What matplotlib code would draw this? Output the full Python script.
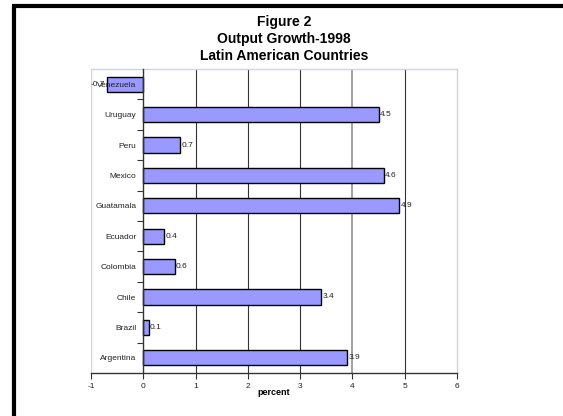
import matplotlib
matplotlib.use("Agg")
import matplotlib.pyplot as plt
from matplotlib.lines import Line2D

plt.rcParams['font.family'] = ['Liberation Sans', 'DejaVu Sans']

countries = ["Argentina", "Brazil", "Chile", "Colombia", "Ecuador",
             "Guatamala", "Mexico", "Peru", "Uruguay", "Venezuela"]
growth = [3.9, 0.1, 3.4, 0.6, 0.4, 4.9, 4.6, 0.7, 4.5, -0.7]
value_labels = ["3.9", "0.1", "3.4", "0.6", "0.4", "4.9", "4.6", "0.7", "4.5", "-0.7"]
x_ticks = [-1, 0, 1, 2, 3, 4, 5, 6]

W, H = 563, 416
fig = plt.figure(figsize=(W / 100, H / 100), dpi=100)
fig.patch.set_facecolor("white")

# thick black frame around the chart (open to the right and bottom)
fig.add_artist(Line2D([13.5 / W, 13.5 / W], [1 - 6 / H, 0], transform=fig.transFigure,
                      color="black", lw=3.0, solid_capstyle="butt"))
fig.add_artist(Line2D([12 / W, 1], [1 - 6 / H, 1 - 6 / H], transform=fig.transFigure,
                      color="black", lw=3.0, solid_capstyle="butt"))

ax = fig.add_axes([91 / W, (H - 373) / H, (457 - 91) / W, (373 - 69) / H])

pos = list(range(len(countries)))
ax.barh(pos, growth, height=0.5, color="#9999FF", edgecolor="black", linewidth=1.0, zorder=3)

ax.set_xlim(-1, 6)
ax.set_ylim(-0.5, len(countries) - 0.5)

# vertical gridlines
for v in x_ticks[2:-1]:
    if v == 4:
        ax.axvline(v, color="#999999", lw=1.3, zorder=1)
    else:
        ax.axvline(v, color="#333333", lw=0.8, zorder=1)

# plot area frame
for side in ("top", "right"):
    ax.spines[side].set_color("#D0D0F4")
    ax.spines[side].set_linewidth(1.0)
ax.spines["bottom"].set_color("#333333")
ax.spines["bottom"].set_linewidth(1.0)
ax.axvline(-1, color="#D0D0F4", lw=1.0, zorder=0)
ax.spines["left"].set_position(("data", 0))
ax.spines["left"].set_color("#333333")
ax.spines["left"].set_linewidth(1.0)
ax.spines["left"].set_zorder(4)
ax.yaxis.set_zorder(4.5)

ax.set_xticks(x_ticks)
ax.set_xticklabels([str(t) for t in x_ticks], fontsize=6, color="#222222")
ax.tick_params(axis="x", direction="out", length=4, width=0.8, color="#333333", pad=3)

ax.set_yticks(pos)
ax.set_yticklabels(countries, fontsize=6, color="#222222")
ax.tick_params(axis="y", which="major", length=0, pad=5)
ax.set_yticks([p + 0.5 for p in pos[:-1]], minor=True)
ax.tick_params(axis="y", which="minor", direction="out", length=4, width=0.8, color="#333333")

for p, v, lab in zip(pos, growth, value_labels):
    if v >= 0:
        ax.annotate(lab, (v, p), xytext=(1, 0), textcoords="offset points",
                    ha="left", va="center", fontsize=6, color="#222222", zorder=5)
    else:
        ax.annotate(lab, (v, p), xytext=(-1, 0), textcoords="offset points",
                    ha="right", va="center", fontsize=6, color="#222222",
                    zorder=5, annotation_clip=False)

ax.set_xlabel("percent", fontsize=6.5, fontweight="bold", labelpad=-1)

fig.text(284 / W, 1 - 39 / H,
         "Figure 2\nOutput Growth-1998\nLatin American Countries",
         ha="center", va="center", fontsize=10, fontweight="bold", linespacing=1.3)

fig.savefig("out.png", dpi=100, facecolor="white")
